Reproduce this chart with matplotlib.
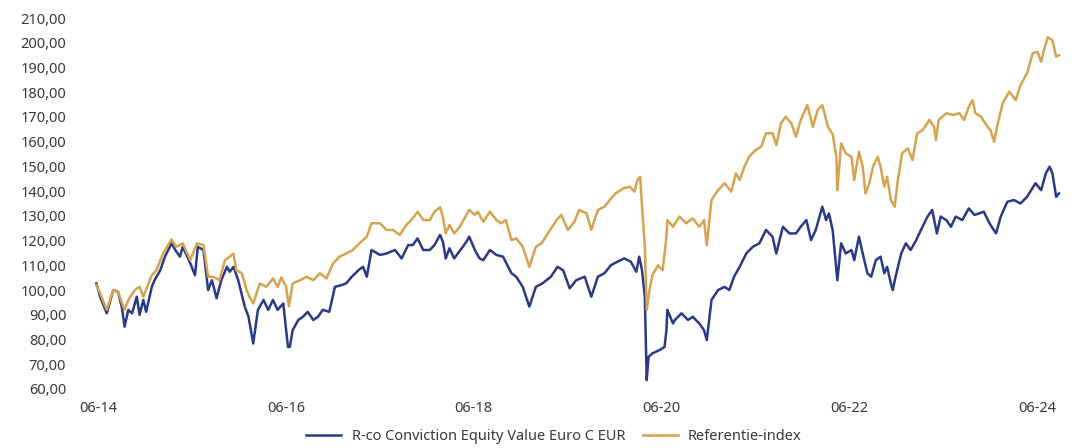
import matplotlib.pyplot as plt
from matplotlib.ticker import FuncFormatter

plt.rcParams['font.family'] = ['Noto Sans', 'DejaVu Sans']

# time in decimal years
fund_t = [2014.40, 2014.44, 2014.51, 2014.58, 2014.63, 2014.67, 2014.70, 2014.74, 2014.78, 2014.83,
          2014.86, 2014.90, 2014.93, 2014.99, 2015.02, 2015.08, 2015.13, 2015.20, 2015.24, 2015.29,
          2015.32, 2015.40, 2015.45, 2015.48, 2015.54, 2015.59, 2015.63, 2015.68, 2015.73, 2015.79,
          2015.82, 2015.86, 2015.91, 2015.98, 2016.02, 2016.07, 2016.12, 2016.18, 2016.23, 2016.28,
          2016.33, 2016.39, 2016.44, 2016.46, 2016.49, 2016.55, 2016.60, 2016.65, 2016.71, 2016.76,
          2016.81, 2016.88, 2016.94, 2017.01, 2017.06, 2017.12, 2017.19, 2017.24, 2017.28, 2017.33,
          2017.42, 2017.49, 2017.58, 2017.65, 2017.72, 2017.77, 2017.82, 2017.88, 2017.95, 2018.00,
          2018.06, 2018.09, 2018.12, 2018.16, 2018.21, 2018.29, 2018.34, 2018.37, 2018.43, 2018.48,
          2018.52, 2018.59, 2018.66, 2018.73, 2018.82, 2018.87, 2018.94, 2019.01, 2019.08, 2019.15,
          2019.24, 2019.31, 2019.37, 2019.44, 2019.51, 2019.60, 2019.67, 2019.74, 2019.81, 2019.88,
          2019.95, 2020.02, 2020.09, 2020.15, 2020.18, 2020.21, 2020.24, 2020.26, 2020.28, 2020.32,
          2020.40, 2020.45, 2020.47, 2020.48, 2020.54, 2020.56, 2020.63, 2020.70, 2020.75, 2020.82,
          2020.87, 2020.90, 2020.95, 2021.02, 2021.09, 2021.14, 2021.19, 2021.25, 2021.32, 2021.39,
          2021.46, 2021.53, 2021.60, 2021.64, 2021.71, 2021.78, 2021.85, 2021.90, 2021.96, 2022.01,
          2022.06, 2022.13, 2022.17, 2022.20, 2022.24, 2022.29, 2022.33, 2022.38, 2022.44, 2022.47,
          2022.52, 2022.56, 2022.61, 2022.65, 2022.70, 2022.75, 2022.79, 2022.82, 2022.86, 2022.88,
          2022.91, 2022.97, 2023.02, 2023.07, 2023.13, 2023.18, 2023.25, 2023.30, 2023.35, 2023.39,
          2023.45, 2023.50, 2023.55, 2023.62, 2023.69, 2023.75, 2023.80, 2023.85, 2023.91, 2023.98,
          2024.03, 2024.10, 2024.17, 2024.24, 2024.31, 2024.40, 2024.46, 2024.51, 2024.55, 2024.58,
          2024.62, 2024.65]
fund_v = [102.7, 97.3, 90.6, 100.0, 99.3, 93.3, 85.2, 92.0, 90.6, 97.3,
          90.0, 96.0, 91.2, 101.3, 104.0, 108.0, 113.5, 118.9, 116.2, 113.5,
          117.5, 110.8, 106.0, 117.5, 116.2, 100.0, 104.0, 96.7, 104.0, 109.4,
          107.4, 109.4, 104.0, 93.3, 89.2, 78.4, 92.0, 96.0, 92.0, 96.0,
          92.0, 94.6, 77.0, 77.0, 83.8, 87.9, 89.2, 91.2, 87.9, 89.2,
          92.0, 91.2, 101.3, 102.0, 102.7, 105.4, 108.0, 109.4, 105.4, 116.2,
          114.2, 114.8, 116.2, 112.8, 118.2, 118.2, 120.9, 116.2, 116.2, 118.2,
          122.3, 119.5, 112.8, 116.9, 112.8, 116.9, 119.5, 121.6, 116.2, 112.8,
          112.1, 116.2, 114.2, 113.5, 106.8, 105.4, 101.3, 93.3, 101.3, 102.7,
          105.4, 109.4, 108.0, 100.7, 104.0, 105.4, 97.3, 105.4, 106.8, 110.1,
          111.5, 112.8, 111.5, 107.4, 113.5, 108.0, 97.3, 63.6, 73.0, 74.4,
          75.8, 77.0, 83.8, 92.0, 86.5, 87.9, 90.6, 87.9, 89.2, 86.5,
          83.8, 79.8, 96.0, 100.0, 101.3, 100.0, 105.4, 109.4, 114.8, 117.5,
          118.9, 124.3, 121.6, 114.8, 125.6, 122.9, 122.9, 125.6, 128.3, 120.2,
          124.3, 133.7, 128.3, 131.0, 124.3, 104.0, 118.9, 114.8, 116.2, 112.1,
          121.6, 114.8, 106.8, 105.4, 112.1, 113.5, 106.8, 109.4, 102.7, 100.0,
          105.4, 114.8, 118.9, 116.2, 120.2, 124.3, 129.7, 132.4, 122.9, 129.7,
          128.3, 125.6, 129.7, 128.3, 133.0, 130.4, 131.0, 131.7, 127.0, 122.9,
          129.7, 135.7, 136.4, 135.0, 137.7, 143.2, 140.4, 147.2, 149.9, 147.2,
          137.7, 139.1]

index_t = [2014.40, 2014.44, 2014.51, 2014.58, 2014.63, 2014.70, 2014.74, 2014.81, 2014.86, 2014.90,
           2014.99, 2015.04, 2015.11, 2015.20, 2015.25, 2015.32, 2015.40, 2015.47, 2015.54, 2015.59,
           2015.64, 2015.71, 2015.77, 2015.82, 2015.86, 2015.89, 2015.95, 2016.00, 2016.03, 2016.07,
           2016.14, 2016.21, 2016.28, 2016.33, 2016.37, 2016.42, 2016.45, 2016.49, 2016.57, 2016.64,
           2016.71, 2016.78, 2016.85, 2016.92, 2016.99, 2017.06, 2017.13, 2017.20, 2017.28, 2017.33,
           2017.42, 2017.49, 2017.56, 2017.63, 2017.70, 2017.77, 2017.82, 2017.88, 2017.95, 2018.00,
           2018.06, 2018.09, 2018.12, 2018.16, 2018.21, 2018.27, 2018.32, 2018.37, 2018.43, 2018.46,
           2018.52, 2018.59, 2018.66, 2018.71, 2018.76, 2018.82, 2018.87, 2018.94, 2019.01, 2019.08,
           2019.14, 2019.21, 2019.30, 2019.35, 2019.42, 2019.49, 2019.54, 2019.62, 2019.67, 2019.74,
           2019.81, 2019.88, 2019.93, 2020.01, 2020.08, 2020.13, 2020.16, 2020.19, 2020.22, 2020.24,
           2020.26, 2020.29, 2020.32, 2020.38, 2020.43, 2020.47, 2020.48, 2020.54, 2020.61, 2020.68,
           2020.75, 2020.82, 2020.87, 2020.90, 2020.95, 2021.02, 2021.09, 2021.16, 2021.21, 2021.25,
           2021.30, 2021.35, 2021.42, 2021.48, 2021.53, 2021.60, 2021.64, 2021.69, 2021.74, 2021.80,
           2021.85, 2021.90, 2021.97, 2022.03, 2022.08, 2022.13, 2022.19, 2022.24, 2022.28, 2022.29,
           2022.33, 2022.38, 2022.44, 2022.47, 2022.52, 2022.56, 2022.59, 2022.63, 2022.67, 2022.72,
           2022.75, 2022.79, 2022.82, 2022.86, 2022.90, 2022.93, 2022.98, 2023.04, 2023.09, 2023.14,
           2023.20, 2023.27, 2023.32, 2023.34, 2023.37, 2023.45, 2023.52, 2023.59, 2023.64, 2023.69,
           2023.73, 2023.76, 2023.82, 2023.89, 2023.92, 2023.96, 2023.99, 2024.05, 2024.12, 2024.19,
           2024.24, 2024.31, 2024.37, 2024.42, 2024.46, 2024.49, 2024.53, 2024.58, 2024.62, 2024.65]
index_v = [102.0, 98.7, 92.0, 100.0, 99.3, 92.0, 96.0, 100.0, 101.3, 97.3,
           106.0, 108.0, 114.8, 120.5, 117.5, 118.9, 112.1, 118.9, 118.2, 105.4,
           105.4, 104.0, 112.1, 113.5, 114.8, 108.0, 106.8, 100.0, 97.3, 94.6,
           102.7, 101.3, 104.7, 101.3, 105.1, 101.3, 93.5, 102.7, 104.0, 105.4,
           104.0, 106.8, 104.7, 110.8, 113.5, 114.8, 116.2, 118.9, 121.6, 127.0,
           127.0, 124.3, 124.3, 122.3, 126.3, 129.0, 131.7, 128.3, 128.3, 131.7,
           133.5, 129.7, 122.9, 126.3, 122.9, 125.6, 129.0, 132.4, 130.4, 131.7,
           127.6, 131.7, 128.3, 127.0, 128.3, 120.2, 120.9, 117.5, 109.4, 117.5,
           118.9, 123.0, 128.3, 130.4, 124.3, 127.6, 132.4, 131.0, 124.3, 132.4,
           133.7, 137.1, 139.1, 141.1, 141.8, 139.8, 144.5, 145.8, 128.3, 118.0,
           92.0, 100.0, 106.0, 110.0, 108.0, 121.6, 128.3, 125.6, 129.7, 127.0,
           129.0, 125.6, 128.3, 118.2, 136.4, 140.4, 143.2, 139.8, 147.2, 144.5,
           149.9, 153.9, 156.6, 158.0, 163.4, 163.4, 158.6, 167.4, 170.1, 167.4,
           162.0, 168.8, 174.8, 166.0, 172.8, 174.8, 166.0, 163.0, 153.9, 140.4,
           159.3, 155.3, 153.9, 144.5, 155.9, 149.9, 139.1, 143.2, 149.9, 153.9,
           149.9, 141.8, 145.8, 136.4, 133.7, 143.2, 155.3, 157.3, 152.6, 163.4,
           164.7, 168.8, 166.0, 160.7, 168.8, 171.5, 170.8, 171.5, 168.8, 174.1,
           176.8, 171.5, 170.1, 166.0, 164.7, 160.0, 166.0, 175.5, 180.2, 176.8,
           182.9, 187.6, 195.7, 196.4, 192.3, 197.0, 202.2, 201.1, 194.4, 195.0]

tick_pos = [2014.417, 2016.417, 2018.417, 2020.417, 2022.417, 2024.417]
tick_lab = ['06-14', '06-16', '06-18', '06-20', '06-22', '06-24']
y_ticks = list(range(60, 211, 10))

fig = plt.figure(figsize=(10.82, 4.48), dpi=100)
ax = fig.add_axes([0.0804, 0.1317, 0.907, 0.8281])

ax.plot(fund_t, fund_v, color='#2a3a88', lw=1.8, label='R-co Conviction Equity Value Euro C EUR')
ax.plot(index_t, index_v, color='#d6a34f', lw=1.8, label='Referentie-index')

ax.set_xlim(2014.3, 2024.75)
ax.set_ylim(60, 210)
ax.set_xticks(tick_pos)
ax.set_xticklabels(tick_lab)
ax.set_yticks(y_ticks)
ax.yaxis.set_major_formatter(FuncFormatter(lambda v, p: f'{v:.2f}'.replace('.', ',')))

for s in ax.spines.values():
    s.set_visible(False)
ax.tick_params(length=0, labelsize=10.5, labelcolor='#3a3a3a')
ax.tick_params(axis='y', pad=15)
ax.tick_params(axis='x', pad=9)

fig.legend(loc='center', bbox_to_anchor=(0.512, 0.025), ncol=2, frameon=False,
           fontsize=10.5, handlelength=2.4, columnspacing=1.2, handletextpad=0.7,
           labelcolor='#3a3a3a')

fig.savefig('out.png', dpi=100)
